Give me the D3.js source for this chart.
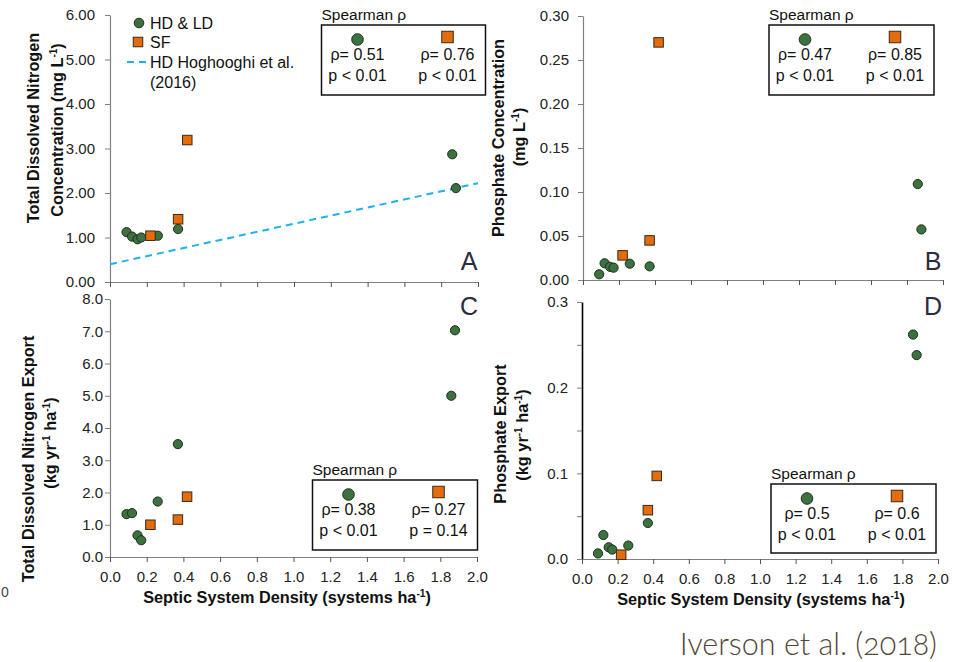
<!DOCTYPE html>
<html>
<head>
<meta charset="utf-8">
<script src="https://cdn.jsdelivr.net/npm/d3@7"></script>
<style>
  html, body { margin: 0; padding: 0; background: #fff; }
  svg { display: block; }
  text { font-family: "Liberation Sans", Arial, sans-serif; }
  text.credit {
    font-family: Lato, "Open Sans", sans-serif;
    font-weight: 300;
    font-feature-settings: "onum" 1;
    font-variant-numeric: oldstyle-nums;
  }
</style>
</head>
<body>
<svg id="chart" width="953" height="662"></svg>
<script>
// Septic system density (systems per ha) of each sampled watershed
const densityHD = [0.09, 0.12, 0.15, 0.17, 0.26, 0.37, 1.86, 1.88];
const densitySF = [0.22, 0.37, 0.42];

// A: total dissolved nitrogen concentration (mg/L)
const tdnConcHD = [1.12, 1.02, 0.96, 1.00, 1.04, 1.19, 2.87, 2.11];
const tdnConcSF = [1.04, 1.41, 3.19];
// B: phosphate concentration (mg/L)
const phosConcHD = [0.0065, 0.019, 0.015, 0.014, 0.0185, 0.0155, 0.109, 0.0575];
const phosConcSF = [0.028, 0.045, 0.270];
// C: total dissolved nitrogen export (kg/yr/ha)
const tdnExportHD = [1.33, 1.36, 0.67, 0.52, 1.72, 3.50, 5.00, 7.03];
const tdnExportSF = [1.00, 1.16, 1.87];
// D: phosphate export (kg/yr/ha)
const phosExportHD = [0.0065, 0.028, 0.0137, 0.011, 0.0157, 0.042, 0.262, 0.238];
const phosExportSF = [0.005, 0.057, 0.097];

// HD relationship reported by Hoghooghi et al. (2016)
const hoghooghiX = [0, 2.0];
const hoghooghiY = [0.40, 2.22];

// Spearman correlation results, panels A-D
const panelLetters = ["A", "B", "C", "D"];
const rhoHD = ["0.51", "0.47", "0.38", "0.5"];
const rhoSF = ["0.76", "0.85", "0.27", "0.6"];
const pHD = ["p < 0.01", "p < 0.01", "p < 0.01", "p < 0.01"];
const pSF = ["p < 0.01", "p < 0.01", "p = 0.14", "p < 0.01"];

// Axis ticks
const xTicks = [0, 0.2, 0.4, 0.6, 0.8, 1.0, 1.2, 1.4, 1.6, 1.8, 2.0];
const yTicksA = [0, 1, 2, 3, 4, 5, 6];
const yTicksB = [0, 0.05, 0.10, 0.15, 0.20, 0.25, 0.30];
const yTicksC = [0, 1, 2, 3, 4, 5, 6, 7, 8];
const yTicksD = [0, 0.05, 0.10, 0.15, 0.20, 0.25, 0.30];

const GREEN = "#3d713f", GREEN_EDGE = "#1c2f1c";
const ORANGE = "#e46c0a", ORANGE_EDGE = "#3b2a1c";
const AXIS = "#808080";
const TITLE_SIZE = 16.3;

const svg = d3.select("#chart");

const panels = [
  { hd: tdnConcHD, sf: tdnConcSF, yTicks: yTicksA, yMax: 6, fmt: d => d.toFixed(2),
    x0: 110, x1: 478, y0: 282, y1: 15, xLabels: false, pad: 10, yAxisColor: AXIS,
    box: [321.5, 25, 164, 70], letter: [469, 270],
    ytitle: [{ x: 33, y: 128, parts: [["Total Dissolved Nitrogen"]] },
             { x: 57, y: 130, parts: [["Concentration (mg L"], ["-1", true], [")"]] }] },
  { hd: phosConcHD, sf: phosConcSF, yTicks: yTicksB, yMax: 0.30, fmt: d => d.toFixed(2),
    x0: 583, x1: 943, y0: 280, y1: 16, xLabels: false, pad: 9, yAxisColor: AXIS,
    box: [769, 25, 165, 70], letter: [933, 270],
    ytitle: [{ x: 498, y: 138, parts: [["Phosphate Concentration"]] },
             { x: 519, y: 137, parts: [["(mg L"], ["-1", true], [")"]] }] },
  { hd: tdnExportHD, sf: tdnExportSF, yTicks: yTicksC, yMax: 8, fmt: d => d.toFixed(1),
    x0: 110, x1: 477, y0: 557, y1: 299, xLabels: true, pad: 2, yAxisColor: AXIS,
    box: [312.5, 480, 165, 70], letter: [469, 315],
    ytitle: [{ x: 28, y: 459, parts: [["Total Dissolved Nitrogen Export"]] },
             { x: 50, y: 443, parts: [["(kg yr"], ["-1", true], [" ha"], ["-1", true], [")"]] }] },
  { hd: phosExportHD, sf: phosExportSF, yTicks: yTicksD, yMax: 0.3,
    fmt: d => (Math.round(d * 100) % 10 === 0 ? d.toFixed(1) : ""),
    x0: 582, x1: 938, y0: 559, y1: 302, xLabels: true, pad: 9, yAxisColor: "#000",
    box: [771, 484, 165, 69], letter: [933, 315],
    ytitle: [{ x: 500, y: 434, parts: [["Phosphate Export"]] },
             { x: 522, y: 435, parts: [["(kg yr"], ["-1", true], [" ha"], ["-1", true], [")"]] }] }
];

function drawSquare(g, cx, cy, s) {
  g.append("rect").attr("x", cx - s / 2).attr("y", cy - s / 2)
    .attr("width", s).attr("height", s)
    .attr("fill", ORANGE).attr("stroke", ORANGE_EDGE).attr("stroke-width", 1);
}
function drawCircle(g, cx, cy, r) {
  g.append("circle").attr("cx", cx).attr("cy", cy).attr("r", r)
    .attr("fill", GREEN).attr("stroke", GREEN_EDGE).attr("stroke-width", 1);
}
// Text runs with optional superscripts ("-1" exponents)
function richText(g, parts, size) {
  let raised = false;
  parts.forEach(([t, sup]) => {
    const ts = g.append("tspan").text(t);
    if (sup) { ts.attr("font-size", size * 0.62).attr("dy", -size * 0.38); raised = true; }
    else if (raised) { ts.attr("dy", size * 0.38); raised = false; }
  });
}

panels.forEach((p, i) => {
  const g = svg.append("g");
  const x = d3.scaleLinear().domain([0, 2]).range([p.x0, p.x1]);
  const y = d3.scaleLinear().domain([0, p.yMax]).range([p.y0, p.y1]);

  // y axis
  const ya = g.append("g").attr("transform", `translate(${p.x0},0)`)
    .call(d3.axisLeft(y).tickValues(p.yTicks).tickFormat(p.fmt)
      .tickSize(5).tickSizeOuter(0).tickPadding(p.pad));
  ya.select(".domain").attr("stroke", p.yAxisColor).attr("stroke-width", p.yAxisColor === "#000" ? 1.6 : 1.2);
  ya.selectAll(".tick line").attr("stroke", AXIS);
  ya.selectAll(".tick text").attr("font-size", 15).attr("fill", "#222");

  // x axis
  const xa = g.append("g").attr("transform", `translate(0,${p.y0})`)
    .call(d3.axisBottom(x).tickValues(xTicks)
      .tickFormat(p.xLabels ? (d => d.toFixed(1)) : (() => ""))
      .tickSize(5).tickSizeOuter(0).tickPadding(9));
  xa.select(".domain").attr("stroke", AXIS).attr("stroke-width", 1.2);
  xa.selectAll(".tick line").attr("stroke", "#555");
  xa.selectAll(".tick text").attr("font-size", 15).attr("fill", "#222");

  // Hoghooghi reference line on panel A
  if (i === 0) {
    g.append("path")
      .attr("d", d3.line().x(d => x(d[0])).y(d => y(d[1]))(d3.zip(hoghooghiX, hoghooghiY)))
      .attr("fill", "none").attr("stroke", "#1db2ee").attr("stroke-width", 2)
      .attr("stroke-dasharray", "7,5");
  }

  // data points
  p.hd.forEach((v, k) => drawCircle(g, x(densityHD[k]), y(v), 4.6));
  p.sf.forEach((v, k) => drawSquare(g, x(densitySF[k]), y(v), 9.5));

  // y axis title
  p.ytitle.forEach(t => {
    const tx = g.append("text")
      .attr("transform", `translate(${t.x},${t.y}) rotate(-90)`)
      .attr("text-anchor", "middle").attr("dy", "0.36em")
      .attr("font-size", TITLE_SIZE).attr("font-weight", "bold").attr("fill", "#111");
    richText(tx, t.parts, TITLE_SIZE);
  });

  // panel letter
  g.append("text").attr("x", p.letter[0]).attr("y", p.letter[1])
    .attr("text-anchor", "middle").attr("font-size", 25).attr("fill", "#2b2b40")
    .text(panelLetters[i]);

  // Spearman box
  const [bx, by, bw, bh] = p.box;
  g.append("text").attr("x", bx).attr("y", by - 5).attr("font-size", 15.5).attr("fill", "#111")
    .text("Spearman ρ");
  g.append("rect").attr("x", bx).attr("y", by).attr("width", bw).attr("height", bh)
    .attr("fill", "#fff").attr("stroke", "#111").attr("stroke-width", 1.5);
  const c1 = bx + 36, c2 = bx + 126;
  drawCircle(g, c1, by + 14.5, 5.8);
  drawSquare(g, c2, by + 12, 11.5);
  [[c1, "ρ= " + rhoHD[i], pHD[i]], [c2, "ρ= " + rhoSF[i], pSF[i]]].forEach(([cx, r, pv]) => {
    g.append("text").attr("x", cx).attr("y", by + 35).attr("text-anchor", "middle")
      .attr("font-size", 16).attr("fill", "#111").text(r);
    g.append("text").attr("x", cx).attr("y", by + 56).attr("text-anchor", "middle")
      .attr("font-size", 16).attr("fill", "#111").text(pv);
  });
});

// x axis titles of the lower panels
[[287, 603], [761, 605]].forEach(([cx, cy]) => {
  const t = svg.append("text").attr("x", cx).attr("y", cy).attr("text-anchor", "middle")
    .attr("font-size", TITLE_SIZE).attr("font-weight", "bold").attr("fill", "#111");
  richText(t, [["Septic System Density (systems ha"], ["-1", true], [")"]], TITLE_SIZE);
});

// legend for panel A
const lg = svg.append("g");
drawCircle(lg, 139, 23, 4.8);
lg.append("text").attr("x", 150).attr("y", 29).attr("font-size", 16).attr("fill", "#111").text("HD & LD");
drawSquare(lg, 138, 42, 9.5);
lg.append("text").attr("x", 150).attr("y", 48).attr("font-size", 16).attr("fill", "#111").text("SF");
lg.append("line").attr("x1", 127).attr("x2", 146).attr("y1", 62).attr("y2", 62)
  .attr("stroke", "#1db2ee").attr("stroke-width", 2).attr("stroke-dasharray", "7,5");
lg.append("text").attr("x", 150).attr("y", 68).attr("font-size", 16).attr("fill", "#111").text("HD Hoghooghi et al.");
lg.append("text").attr("x", 150).attr("y", 88).attr("font-size", 16).attr("fill", "#111").text("(2016)");

// small label at the left edge
svg.append("text").attr("x", 1).attr("y", 597).attr("text-anchor", "start")
  .attr("font-size", 14).attr("fill", "#444").text("0");

// source credit
svg.append("text").attr("class", "credit").attr("x", 937).attr("y", 655).attr("text-anchor", "end")
  .attr("font-size", 30.5).attr("fill", "#55463a")
  .text("Iverson et al. (2018)");
</script>
</body>
</html>
